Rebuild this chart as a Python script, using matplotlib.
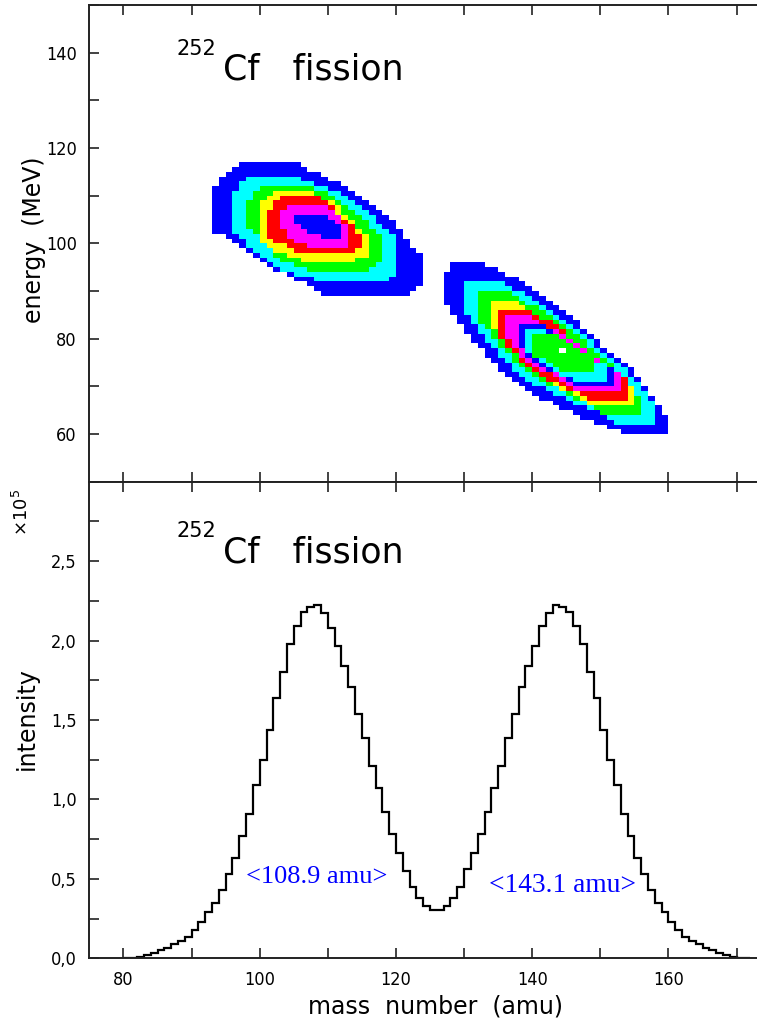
import numpy as np
import matplotlib.pyplot as plt
from matplotlib.path import Path
from matplotlib.colors import ListedColormap, BoundaryNorm
from matplotlib.ticker import MultipleLocator, FuncFormatter

# mass yield, 1 amu bins starting at 80 amu (units of 1e5 counts)
mass_first = 80
intensity = [
    0.005, 0.005, 0.01, 0.02, 0.036, 0.05, 0.067, 0.09, 0.11, 0.137,    # 80-89
    0.18, 0.23, 0.29, 0.35, 0.43, 0.53, 0.63, 0.77, 0.91, 1.09,         # 90-99
    1.25, 1.44, 1.64, 1.80, 1.98, 2.09, 2.18, 2.21, 2.225, 2.175,       # 100-109
    2.08, 1.965, 1.84, 1.71, 1.54, 1.39, 1.21, 1.07, 0.92, 0.78,        # 110-119
    0.66, 0.55, 0.45, 0.38, 0.33, 0.305, 0.305, 0.33, 0.38, 0.45,       # 120-129
    0.56, 0.66, 0.78, 0.92, 1.07, 1.21, 1.39, 1.54, 1.71, 1.84,         # 130-139
    1.965, 2.09, 2.175, 2.225, 2.21, 2.18, 2.09, 1.98, 1.80, 1.64,      # 140-149
    1.44, 1.25, 1.09, 0.91, 0.77, 0.63, 0.53, 0.43, 0.35, 0.29,         # 150-159
    0.23, 0.18, 0.137, 0.11, 0.09, 0.067, 0.05, 0.036, 0.02, 0.01,      # 160-169
    0.005, 0.005,                                                       # 170-171
]

# 2D map: outline of each count level (amu, MeV)
light_levels = [
    [(97.4, 117.0), (105.3, 117.0), (109.7, 113.7), (112.6, 111.9), (115.6, 109.1),
     (118.6, 106.4), (121.4, 100.7), (123.8, 97.5), (123.8, 91.2), (121.4, 88.8),
     (110.4, 88.8), (107.2, 91.2), (103.3, 93.7), (99.4, 96.7), (95.5, 100.9),
     (92.8, 102.8), (92.8, 110.6), (95.5, 115.3)],
    [(98.4, 114.0), (105.3, 114.0), (107.2, 113.0), (110.6, 111.2), (114.1, 108.8),
     (117.0, 104.9), (119.6, 101.4), (120.4, 97.2), (120.4, 94.4), (118.6, 91.9),
     (109.7, 91.9), (105.8, 93.0), (102.3, 95.1), (99.4, 97.9), (97.4, 101.4),
     (96.2, 102.8), (96.2, 110.6), (96.9, 111.9)],
    [(100.3, 112.3), (106.7, 112.3), (110.6, 109.8), (114.6, 106.3), (117.6, 101.4),
     (117.6, 95.8), (115.6, 94.4), (107.2, 94.4), (103.8, 95.8), (100.9, 99.3),
     (98.4, 103.6), (98.4, 109.1)],
    [(102.3, 111.2), (107.2, 111.2), (111.6, 107.7), (115.6, 101.4), (115.6, 97.2),
     (114.1, 96.4), (106.2, 96.4), (102.8, 97.9), (99.6, 101.4), (99.6, 107.7)],
    [(103.0, 109.6), (108.7, 109.6), (111.6, 106.3), (114.6, 102.1), (114.6, 98.6),
     (113.6, 97.6), (107.2, 97.6), (103.8, 99.3), (101.1, 101.4), (101.1, 106.3)],
    [(104.6, 108.4), (108.7, 108.4), (111.4, 106.0), (113.1, 103.6), (113.1, 98.9),
     (108.7, 98.9), (104.8, 100.7), (103.1, 103.6), (103.1, 106.3)],
    [(105.6, 106.3), (108.7, 106.3), (111.6, 103.6), (111.6, 101.4), (109.4, 101.4),
     (104.6, 104.0), (104.6, 105.0)],
]

heavy_levels = [
    [(129.4, 96.2), (132.4, 96.2), (134.6, 94.7), (137.1, 93.0), (139.0, 91.2),
     (141.0, 89.6), (143.0, 87.7), (144.9, 85.3), (146.9, 83.2), (148.8, 80.7),
     (150.8, 77.9), (152.7, 75.8), (154.7, 73.7), (156.2, 70.9), (157.6, 68.1),
     (159.1, 64.6), (160.2, 63.2), (160.2, 59.9), (153.7, 59.9), (150.8, 61.4),
     (147.4, 63.2), (144.4, 65.3), (141.0, 67.7), (138.6, 69.8), (136.1, 72.6),
     (134.1, 75.4), (132.2, 78.2), (130.2, 81.7), (128.3, 85.3), (127.4, 87.0),
     (127.4, 94.0), (128.3, 95.4)],
    [(130.4, 92.2), (135.1, 92.2), (137.1, 90.6), (140.0, 88.4), (143.0, 85.6),
     (145.9, 82.8), (148.8, 79.3), (151.8, 75.8), (153.7, 73.7), (156.2, 69.6),
     (157.6, 66.7), (157.6, 62.3), (151.7, 62.3), (150.8, 63.9), (146.9, 66.0),
     (142.6, 68.8), (139.0, 71.6), (136.6, 74.4), (134.4, 77.9), (132.2, 81.4),
     (130.4, 84.9)],
    [(132.4, 90.4), (136.6, 90.4), (139.0, 87.7), (142.0, 85.6), (144.9, 82.5),
     (147.8, 79.3), (150.8, 75.8), (153.7, 71.6), (155.6, 68.1), (155.6, 64.2),
     (150.8, 64.2), (149.3, 65.6), (145.9, 67.7), (142.6, 70.2), (138.6, 73.7),
     (136.1, 77.2), (134.1, 80.7), (132.4, 83.6)],
    [(134.4, 88.1), (137.6, 88.1), (140.6, 85.3), (143.4, 82.8), (146.9, 78.9),
     (150.3, 75.1), (152.7, 71.6), (154.7, 69.6), (154.7, 66.0), (148.8, 66.0),
     (146.9, 68.1), (143.9, 69.8), (140.4, 73.0), (138.1, 76.4), (136.1, 80.0),
     (134.4, 82.1)],
    [(135.4, 86.0), (139.0, 86.0), (142.6, 83.6), (145.9, 80.0), (149.3, 76.4),
     (151.8, 73.0), (153.7, 71.6), (153.7, 67.4), (147.9, 67.4), (145.9, 69.1),
     (142.4, 71.2), (139.4, 74.4), (137.1, 77.2), (135.4, 80.7)],
    [(136.3, 84.9), (139.6, 84.9), (142.0, 82.8), (144.9, 80.7), (147.8, 77.9),
     (150.8, 74.4), (152.7, 73.0), (152.7, 68.8), (146.9, 68.8), (144.9, 70.9),
     (141.0, 73.7), (138.4, 76.4), (136.3, 80.7)],
    [(138.1, 83.4), (140.6, 83.4), (143.4, 81.0), (146.4, 78.6), (149.3, 75.1),
     (151.8, 74.4), (151.8, 70.2), (145.9, 70.2), (143.4, 72.6), (140.6, 75.1),
     (138.1, 78.2)],
    [(138.8, 82.4), (141.6, 82.4), (142.6, 81.4), (145.4, 79.3), (148.3, 76.4),
     (150.8, 74.4), (150.8, 71.2), (145.9, 71.2), (143.4, 73.3), (141.0, 75.1),
     (138.8, 78.0)],
    [(140.6, 81.0), (143.4, 81.0), (144.4, 80.0), (146.9, 77.9), (149.3, 75.8),
     (149.3, 72.6), (145.4, 72.6), (142.0, 75.1), (140.0, 76.8), (140.0, 80.3)],
]
peak_cells = [(144, 77, 10)]   # (amu, MeV, level) single hottest cell

level_colors = ['#0000ff', '#00ffff', '#00ff00', '#ffff00', '#ff0000', '#ff00ff',
                '#0000ff', '#00ffff', '#00ff00', '#ffffff']

tick_font = ['Liberation Sans Narrow', 'DejaVu Sans']

# ---- build the level map on a 1 amu x 1 MeV grid
amu_edges = np.arange(75, 174)
mev_edges = np.arange(50, 151)
cx, cy = np.meshgrid(amu_edges[:-1] + 0.5, mev_edges[:-1] + 0.5)
pts = np.column_stack([cx.ravel(), cy.ravel()])
level = np.zeros(cx.shape, dtype=int)
for blob in (light_levels, heavy_levels):
    for k, poly in enumerate(blob, start=1):
        inside = Path(poly).contains_points(pts).reshape(cx.shape)
        level[inside] = np.maximum(level[inside], k)
for a, e, k in peak_cells:
    level[e - mev_edges[0], a - amu_edges[0]] = k
level = np.ma.masked_equal(level, 0)

cmap = ListedColormap(level_colors)
norm = BoundaryNorm(np.arange(0.5, len(level_colors) + 1), cmap.N)

fig = plt.figure(figsize=(7.57, 10.18), dpi=100)
ax1 = fig.add_axes([0.1181, 0.5268, 0.8819, 0.4683])
ax2 = fig.add_axes([0.1181, 0.0586, 0.8819, 0.4682])

ax1.pcolormesh(amu_edges, mev_edges, level, cmap=cmap, norm=norm,
               shading='flat', antialiased=False, linewidth=0)

edges = np.arange(mass_first, mass_first + len(intensity) + 1)
ax2.stairs(intensity, edges, color='black', linewidth=1.6, baseline=0)

for ax in (ax1, ax2):
    ax.set_xlim(75, 173)
    ax.spines['right'].set_visible(False)
    for s in ('left', 'top', 'bottom'):
        ax.spines[s].set_linewidth(1.4)
        ax.spines[s].set_color('#222222')
    ax.xaxis.set_major_locator(MultipleLocator(20))
    ax.xaxis.set_minor_locator(MultipleLocator(10))
    ax.tick_params(which='both', direction='in', top=True, right=False,
                   length=7, width=1.2, color='#222222', pad=9)

ax1.set_ylim(50, 150)
ax1.yaxis.set_major_locator(MultipleLocator(20))
ax1.yaxis.set_minor_locator(MultipleLocator(10))
ax1.tick_params(labelbottom=False)

ax2.set_ylim(0, 3.0)
ax2.yaxis.set_minor_locator(MultipleLocator(0.25))
ax2.set_yticks([0, 0.5, 1.0, 1.5, 2.0, 2.5])
ax2.yaxis.set_major_formatter(FuncFormatter(lambda v, p: f'{v:.1f}'.replace('.', ',')))

for ax in (ax1, ax2):
    for lab in ax.get_xticklabels() + ax.get_yticklabels():
        lab.set_family(tick_font)
        lab.set_stretch('condensed')
        lab.set_fontsize(13)

# titles
for ax, ybase, ysup in ((ax1, 134.4, 139.5), (ax2, 2.49, 2.65)):
    ax.text(87.8, ysup, '252', fontsize=15, va='baseline', ha='left')
    ax.text(94.6, ybase, 'Cf   fission', fontsize=25, va='baseline', ha='left')

ax1.text(-0.083, 0.507, 'energy  (MeV)', transform=ax1.transAxes, rotation=90,
         ha='center', va='center', fontsize=17)
ax2.text(-0.0935, 0.504, 'intensity', transform=ax2.transAxes, rotation=90,
         ha='center', va='center', fontsize=17)
ax2.text(-0.101, 0.936, r'$\times 10^5$', transform=ax2.transAxes, rotation=90,
         ha='center', va='center', fontsize=13)
ax2.text(0.519, -0.100, 'mass  number  (amu)', transform=ax2.transAxes,
         ha='center', va='center', fontsize=17)

ax2.text(98.0, 0.474, '<108.9 amu>', family='Liberation Serif', fontsize=19,
         color='#0000ff', va='baseline', ha='left')
ax2.text(133.7, 0.417, '<143.1 amu>', family='Liberation Serif', fontsize=19.8,
         color='#0000ff', va='baseline', ha='left')

fig.savefig('out.png', dpi=100)
